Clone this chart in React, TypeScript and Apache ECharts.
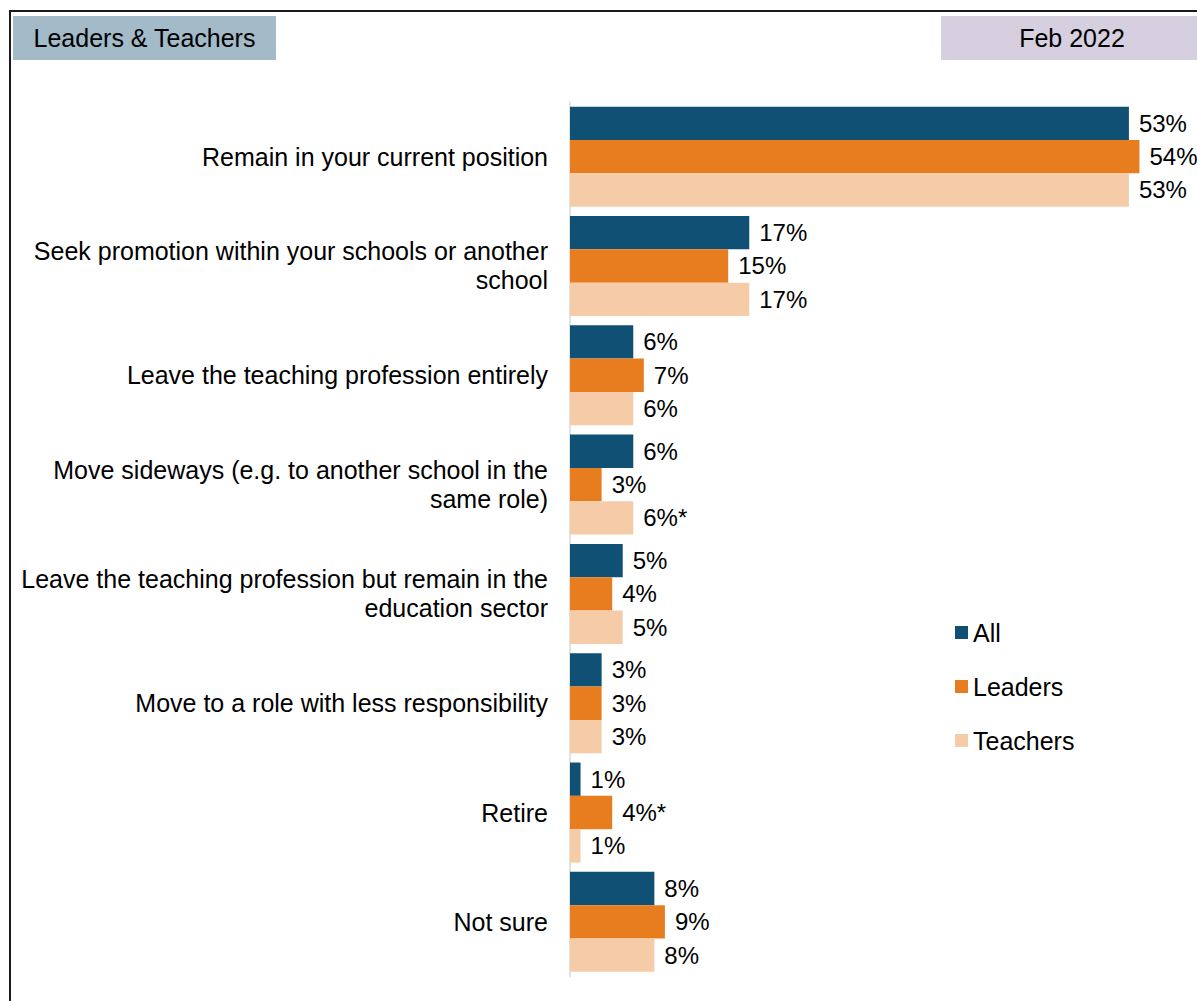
import React, { useEffect, useRef } from "react";
import * as echarts from "echarts";

const categories: string[] = [
  "Remain in your current position",
  "Seek promotion within your schools or another\nschool",
  "Leave the teaching profession entirely",
  "Move sideways (e.g. to another school in the\nsame role)",
  "Leave the teaching profession but remain in the\neducation sector",
  "Move to a role with less responsibility",
  "Retire",
  "Not sure",
];

const seriesNames: string[] = ["All", "Leaders", "Teachers"];
const allValues: number[] = [53, 17, 6, 6, 5, 3, 1, 8];
const leadersValues: number[] = [54, 15, 7, 3, 4, 3, 4, 9];
const teachersValues: number[] = [53, 17, 6, 6, 5, 3, 1, 8];
const allNotes: string[] = ["", "", "", "", "", "", "", ""];
const leadersNotes: string[] = ["", "", "", "", "", "", "*", ""];
const teachersNotes: string[] = ["", "", "", "*", "", "", "", ""];

const headerLeft = "Leaders & Teachers";
const headerRight = "Feb 2022";

const FONT = '"Liberation Sans", Arial, sans-serif';
const COLORS = ["#105074", "#e77d1f", "#f6cba8"];

export default function App() {
  const ref = useRef<HTMLDivElement>(null);

  useEffect(() => {
    if (!ref.current) return;
    const chart = echarts.init(ref.current, undefined, { renderer: "svg" });

    const makeSeries = (name: string, values: number[], notes: string[], color: string) => ({
      name,
      type: "bar",
      data: values,
      itemStyle: { color },
      barGap: "0%",
      barCategoryGap: "8.5%",
      label: {
        show: true,
        position: "right",
        distance: 10,
        fontSize: 24,
        fontFamily: FONT,
        color: "#000",
        formatter: (p: any) => `${p.value}%${notes[p.dataIndex]}`,
      },
    });

    chart.setOption({
      animation: false,
      backgroundColor: "#ffffff",
      textStyle: { fontFamily: FONT },
      color: COLORS,
      grid: { left: 570, top: 102, height: 874.5, right: 47, containLabel: false },
      xAxis: {
        type: "value",
        min: 0,
        max: 55,
        show: false,
      },
      yAxis: {
        type: "category",
        inverse: true,
        data: categories,
        axisLine: { show: true, lineStyle: { color: "#d9d9d9", width: 1.5 } },
        axisTick: { show: false },
        axisLabel: {
          fontSize: 25,
          fontFamily: FONT,
          color: "#000",
          lineHeight: 29,
          margin: 22,
          align: "right",
        },
      },
      legend: {
        orient: "vertical",
        left: 955,
        top: 620,
        padding: 0,
        itemWidth: 13,
        itemHeight: 13,
        itemGap: 29,
        icon: "rect",
        data: seriesNames,
        textStyle: { fontSize: 25, fontFamily: FONT, color: "#000", lineHeight: 24 },
      },
      graphic: [
        {
          type: "rect",
          shape: { x: 10, y: 11, width: 1400, height: 1200 },
          style: { fill: "none", stroke: "#1a1a1a", lineWidth: 2 },
          silent: true,
        },
        {
          type: "rect",
          shape: { x: 13, y: 16, width: 263, height: 44 },
          style: { fill: "#a3bac8" },
          silent: true,
        },
        {
          type: "text",
          x: 144.5,
          y: 38,
          style: {
            text: headerLeft,
            fontSize: 25,
            fontFamily: FONT,
            fill: "#000",
            align: "center",
            verticalAlign: "middle",
          },
          silent: true,
        },
        {
          type: "rect",
          shape: { x: 941, y: 16, width: 300, height: 44 },
          style: { fill: "#d6cfe0" },
          silent: true,
        },
        {
          type: "text",
          x: 1072,
          y: 38,
          style: {
            text: headerRight,
            fontSize: 25,
            fontFamily: FONT,
            fill: "#000",
            align: "center",
            verticalAlign: "middle",
          },
          silent: true,
        },
      ],
      series: [
        makeSeries(seriesNames[0], allValues, allNotes, COLORS[0]),
        makeSeries(seriesNames[1], leadersValues, leadersNotes, COLORS[1]),
        makeSeries(seriesNames[2], teachersValues, teachersNotes, COLORS[2]),
      ],
    });

    return () => chart.dispose();
  }, []);

  return (
    <div
      ref={ref}
      style={{ position: "fixed", left: 0, top: 0, width: 1197, height: 1001, background: "#fff" }}
    />
  );
}
